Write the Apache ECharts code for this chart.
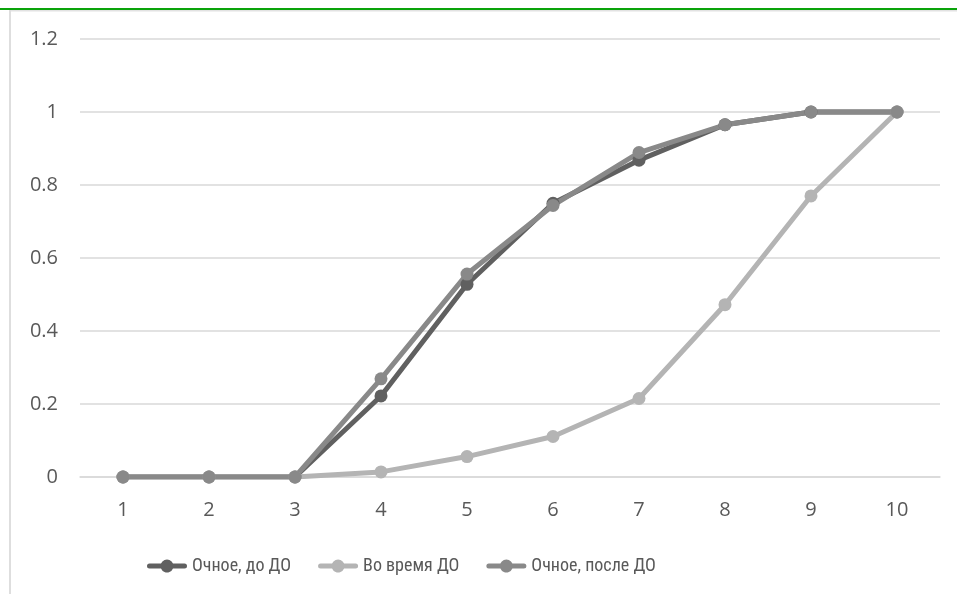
<!DOCTYPE html>
<html>
<head>
<meta charset="utf-8">
<script src="https://cdn.jsdelivr.net/npm/echarts@6/dist/echarts.min.js"></script>
<style>
  html, body { margin: 0; padding: 0; background: #ffffff; }
  #chart { width: 957px; height: 594px; }
</style>
</head>
<body>
<div id="chart"></div>
<script>
// Categories (1..10) and cumulative shares for the three study modes
const categories = ['1', '2', '3', '4', '5', '6', '7', '8', '9', '10'];
const seriesNames = ['Очное, до ДО', 'Во время ДО', 'Очное, после ДО'];
const beforeDO = [0, 0, 0, 0.222, 0.528, 0.75, 0.868, 0.965, 1, 1];
const duringDO = [0, 0, 0, 0.014, 0.056, 0.111, 0.215, 0.472, 0.77, 1];
const afterDO = [0, 0, 0, 0.269, 0.556, 0.744, 0.889, 0.965, 1, 1];
const yTicks = [0, 0.2, 0.4, 0.6, 0.8, 1, 1.2];

const colors = ['#606060', '#b4b4b4', '#898989'];
const axisFont = '"Open Sans", "Liberation Sans", sans-serif';
const legendFont = '"Roboto Condensed", "DejaVu Sans Condensed", sans-serif';

// Legend glyph: a thick round-capped line with a dot in the middle (40 x 13 box)
const legendIcon = 'path://M2.5 4 L14 4 A6.5 6.5 0 0 1 26 4 L37.5 4 A2.5 2.5 0 0 1 37.5 9 ' +
  'L26 9 A6.5 6.5 0 0 1 14 9 L2.5 9 A2.5 2.5 0 0 1 2.5 4 Z';

const chart = echarts.init(document.getElementById('chart'), null, { renderer: 'canvas' });

function lineSeries(name, data, color) {
  return {
    name: name,
    type: 'line',
    data: data,
    symbol: 'circle',
    symbolSize: 13,
    showSymbol: true,
    lineStyle: { color: color, width: 5, cap: 'round', join: 'round' },
    itemStyle: { color: color },
    emphasis: { disabled: true },
    animation: false
  };
}

chart.setOption({
  backgroundColor: '#ffffff',
  animation: false,
  color: colors,
  grid: { left: 80, right: 17, top: 39, bottom: 117, containLabel: false },
  xAxis: {
    type: 'category',
    data: categories,
    boundaryGap: true,
    axisLine: { show: true, lineStyle: { color: '#d9d9d9', width: 1.5 } },
    axisTick: { show: false },
    axisLabel: { color: '#595959', fontSize: 20, fontFamily: axisFont, margin: 23 },
    splitLine: { show: false }
  },
  yAxis: {
    type: 'value',
    min: yTicks[0],
    max: yTicks[yTicks.length - 1],
    interval: 0.2,
    axisLine: { show: false },
    axisTick: { show: false },
    axisLabel: {
      color: '#595959', fontSize: 20, fontFamily: axisFont, margin: 22,
      formatter: function (v) { return String(Math.round(v * 10) / 10); }
    },
    splitLine: { lineStyle: { color: '#d9d9d9', width: 1.5 } }
  },
  legend: {
    top: 552,
    left: 142,
    itemWidth: 40,
    itemHeight: 13,
    itemGap: 27,
    icon: legendIcon,
    itemStyle: { borderWidth: 0 },
    textStyle: { color: '#595959', fontSize: 18, fontFamily: legendFont },
    data: seriesNames.map(function (n, i) {
      return { name: n, icon: legendIcon, itemStyle: { color: colors[i] } };
    })
  },
  graphic: [
    { type: 'rect', shape: { x: 0, y: 8, width: 957, height: 2 }, style: { fill: '#0aa30a' }, silent: true },
    { type: 'rect', shape: { x: 9, y: 10, width: 948, height: 1.5 }, style: { fill: '#e2e2e2' }, silent: true },
    { type: 'rect', shape: { x: 9, y: 10, width: 2, height: 584 }, style: { fill: '#dedede' }, silent: true }
  ],
  series: [
    lineSeries(seriesNames[0], beforeDO, colors[0]),
    lineSeries(seriesNames[1], duringDO, colors[1]),
    lineSeries(seriesNames[2], afterDO, colors[2])
  ]
});
</script>
</body>
</html>
